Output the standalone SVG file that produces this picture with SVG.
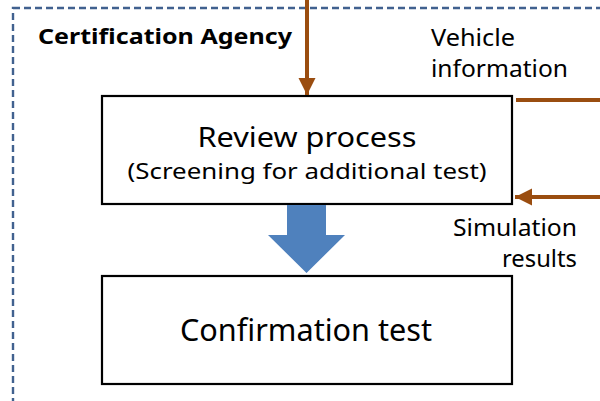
<svg xmlns="http://www.w3.org/2000/svg" width="600" height="401" viewBox="0 0 600 401">
<style>
text{font-family:"Noto Sans","Open Sans","DejaVu Sans",sans-serif;fill:#000}
.box{fill:#fff;stroke:#000;stroke-width:2.2}
.conn{stroke:#9a4d10;stroke-width:4;fill:none}
</style>
<defs>
<marker id="ah" viewBox="0 0 10 10" refX="10" refY="5" markerWidth="4.3" markerHeight="4.3" orient="auto" markerUnits="strokeWidth">
<path d="M0,0 L10,5 L0,10 Z" fill="#9a4d10"/>
</marker>
</defs>
<rect width="600" height="401" fill="#fff"/>
<g id="agency">
<rect x="13" y="8" width="620" height="420" fill="none" stroke="#41618f" stroke-width="2.4" stroke-dasharray="7,4"/>
<text x="38" y="44" font-size="22" font-weight="bold" textLength="254" lengthAdjust="spacingAndGlyphs">Certification Agency</text>
</g>
<g id="review">
<rect class="box" x="102" y="96" width="410" height="108"/>
<text x="307" y="147" font-size="28" text-anchor="middle" textLength="219" lengthAdjust="spacingAndGlyphs">Review process</text>
<text x="307" y="179" font-size="22" text-anchor="middle" textLength="359" lengthAdjust="spacingAndGlyphs">(Screening for additional test)</text>
</g>
<g id="confirmation">
<rect class="box" x="102" y="276" width="410" height="108"/>
<text x="306" y="341" font-size="30" text-anchor="middle" textLength="252" lengthAdjust="spacingAndGlyphs">Confirmation test</text>
</g>
<g id="labels">
<text x="431" y="46" font-size="23" textLength="84" lengthAdjust="spacingAndGlyphs">Vehicle</text>
<text x="431" y="77" font-size="23" textLength="137" lengthAdjust="spacingAndGlyphs">information</text>
<text x="577" y="236" font-size="23" text-anchor="end" textLength="124" lengthAdjust="spacingAndGlyphs">Simulation</text>
<text x="577" y="267" font-size="23" text-anchor="end" textLength="75" lengthAdjust="spacingAndGlyphs">results</text>
</g>
<g id="connectors">
<line class="conn" x1="307" y1="0" x2="307" y2="95" marker-end="url(#ah)"/>
<line class="conn" x1="516" y1="100" x2="600" y2="100"/>
<line class="conn" x1="600" y1="197" x2="515" y2="197" marker-end="url(#ah)"/>
<polygon points="287,205 326,205 326,235 345,235 306.5,273 268,235 287,235" fill="#4f81bd"/>
</g>
</svg>
